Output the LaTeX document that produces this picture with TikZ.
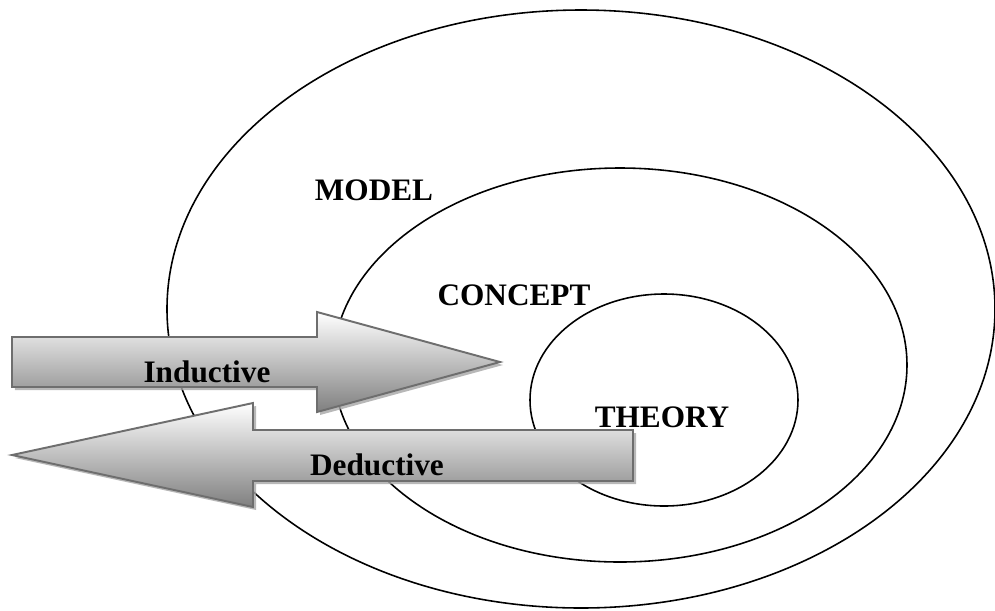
\documentclass[tikz,border=0pt]{standalone}
\usepackage{fontspec}
\setmainfont{Liberation Serif}
\usepackage{tikz}
\usetikzlibrary{shadows}
\tikzstyle{ring}=[draw=black, line width=0.9pt]
\tikzstyle{bigarrow}=[draw=black!57, line width=1.1pt, line join=miter,
  top color=white, bottom color=black!50,
  drop shadow={shadow xshift=0.06cm, shadow yshift=-0.06cm, fill=black!35, opacity=0.8}]
\tikzstyle{lbl}=[inner sep=0pt, anchor=base, font=\bfseries\fontsize{17.8}{20}\selectfont]

\begin{document}
\begin{tikzpicture}[x=0.02cm, y=-0.02cm]
	\useasboundingbox (0,0) rectangle (995,610);
	\begin{scope}
		\draw[ring] (581,309) ellipse [x radius=414, y radius=299];
		\draw[ring] (620,365) ellipse [x radius=287, y radius=197];
		\draw[ring] (664,400) ellipse [x radius=134, y radius=106];
	\end{scope}
	\begin{scope}
		\node[lbl] (model) at (374,200) {MODEL};
		\node[lbl] (concept) at (514,305) {CONCEPT};
		\node[lbl] (theory) at (662,427) {THEORY};
	\end{scope}
	\begin{scope}
		\draw[bigarrow] (12,337) -- (317,337) -- (317,312) -- (500,362)
			-- (317,412) -- (317,387) -- (12,387) -- cycle;
		\draw[bigarrow] (633,430) -- (253,430) -- (253,403) -- (12,455)
			-- (253,507) -- (253,481) -- (633,481) -- cycle;
		\node[lbl] (ind) at (207,382) {Inductive};
		\node[lbl] (ded) at (377,475) {Deductive};
	\end{scope}
\end{tikzpicture}
\end{document}
